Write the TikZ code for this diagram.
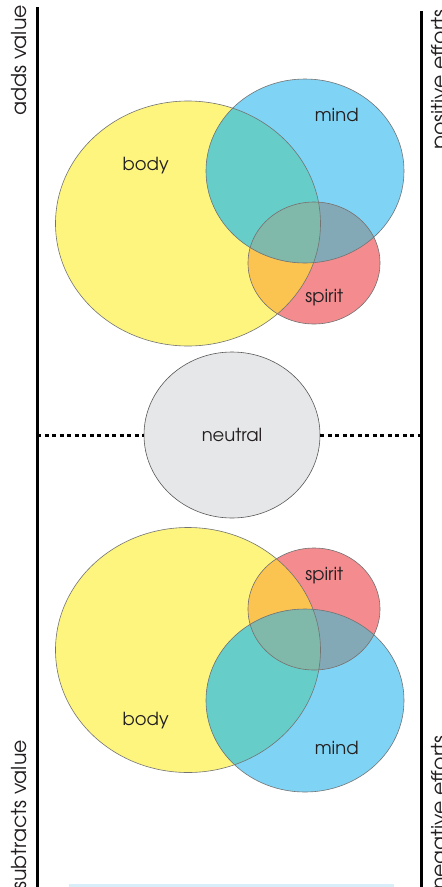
\documentclass[tikz,border=0pt]{standalone}
\usepackage{fontspec}
\setmainfont{TeX Gyre Adventor}
\usetikzlibrary{shapes.geometric}
\definecolor{cY}{HTML}{FEF57E}
\definecolor{cB}{HTML}{7FD4F5}
\definecolor{cR}{HTML}{F38B8F}
\definecolor{cYB}{HTML}{67CDC9}
\definecolor{cYR}{HTML}{FBC350}
\definecolor{cBR}{HTML}{84A9B6}
\definecolor{cYBR}{HTML}{80B8A9}
\definecolor{cN}{HTML}{E6E7E8}
\definecolor{cT}{HTML}{231F20}
\definecolor{cBand}{HTML}{D8EEF9}
\tikzset{
  edgeline/.style={draw=black!55, line width=0.6pt},
  lbl/.style={font=\fontsize{18}{21}\selectfont, text=cT, inner sep=0pt},
  side/.style={font=\fontsize{20.5}{24}\selectfont, text=cT, inner sep=0pt, rotate=90},
  bar/.style={line width=3pt, black},
  dots/.style={line width=3pt, black, dash pattern=on 4pt off 3.5pt}
}
\begin{document}
\begin{tikzpicture}[x=1pt,y=-1pt]
\useasboundingbox (0,0) rectangle (442,887);
\fill[white] (0,0) rectangle (442,887);
% shapes
\def\Ya{(188,223.5) ellipse [x radius=132.5pt, y radius=122.5pt]}
\def\Ba{(305,171) ellipse [x radius=99pt, y radius=92pt]}
\def\Ra{(314,263) ellipse [x radius=66pt, y radius=61pt]}
\def\Yb{(188,650) ellipse [x radius=132.5pt, y radius=122.5pt]}
\def\Bb{(305,700.5) ellipse [x radius=99pt, y radius=91.5pt]}
\def\Rb{(314,609) ellipse [x radius=66pt, y radius=61pt]}
% top group fills
\fill[cY] \Ya; \fill[cB] \Ba; \fill[cR] \Ra;
\begin{scope}\clip \Ya; \fill[cYB] \Ba; \fill[cYR] \Ra; \end{scope}
\begin{scope}\clip \Ba; \fill[cBR] \Ra; \end{scope}
\begin{scope}\clip \Ya; \clip \Ba; \fill[cYBR] \Ra; \end{scope}
\draw[edgeline] \Ya; \draw[edgeline] \Ba; \draw[edgeline] \Ra;
% bottom group fills
\fill[cY] \Yb; \fill[cB] \Bb; \fill[cR] \Rb;
\begin{scope}\clip \Yb; \fill[cYB] \Bb; \fill[cYR] \Rb; \end{scope}
\begin{scope}\clip \Bb; \fill[cBR] \Rb; \end{scope}
\begin{scope}\clip \Yb; \clip \Bb; \fill[cYBR] \Rb; \end{scope}
\draw[edgeline] \Yb; \draw[edgeline] \Bb; \draw[edgeline] \Rb;
% labels
\node[lbl] (body1) at (145.7,166) {body};
\node[lbl] (mind1) at (336.7,115) {mind};
\node[lbl] (spirit1) at (324.3,297.5) {spirit};
\node[lbl] (spirit2) at (324.3,575.5) {spirit};
\node[lbl] (body2) at (145.7,720.5) {body};
\node[lbl] (mind2) at (336.7,747.5) {mind};
% neutral
\node[ellipse, draw=black!65, line width=0.6pt, fill=cN, minimum width=176pt, minimum height=166pt, inner sep=0pt] (neutral) at (232,435) {};
\node[lbl] (neutraltxt) at (neutral.center) {neutral};
% bars
\coordinate (lt) at (37,7); \coordinate (lb) at (37,887);
\coordinate (rt) at (421,11); \coordinate (rb) at (421,887);
\draw[bar] (lt) -- (lb);
\draw[bar] (rt) -- (rb);
\coordinate (dl) at (37,435); \coordinate (dr) at (421,435);
\draw[dots] (dl) -- (neutral.west);
\draw[dots] (neutral.east) -- (dr);
% side texts
\node[side, anchor=base east] (adds) at (27,5) {adds value};
\node[side, anchor=base east] (subs) at (27,740) {subtracts value};
\node[side, anchor=base west] (pos) at (446,150) {positive efforts};
\node[side, anchor=base east] (neg) at (446,735) {negative efforts};
% bottom band
\fill[cBand] (69,884) rectangle (394,887);
\end{tikzpicture}
\end{document}
